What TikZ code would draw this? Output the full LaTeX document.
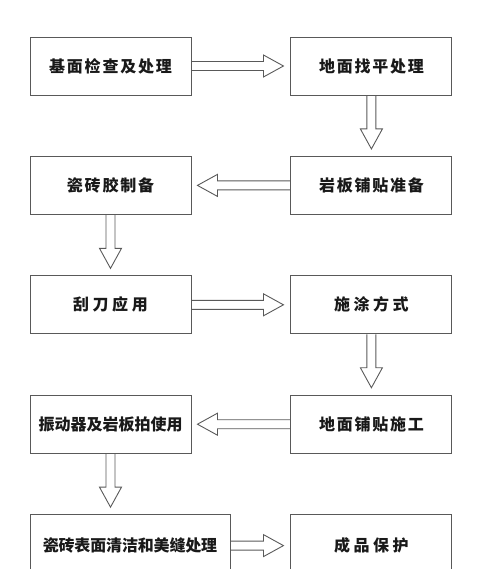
\documentclass[tikz,border=0pt]{standalone}
\usepackage{fontspec}
\newfontfamily\cjk{Noto Sans CJK SC}[LetterSpace=11]
\usetikzlibrary{positioning,calc}

\tikzset{
  stepbox/.style={draw=black!65, line width=0.9pt, minimum width=161pt,
    minimum height=58pt, inner sep=0pt, text=black!90,
    font=\cjk\bfseries\fontsize{16}{18}\selectfont},
  flow/.style={draw=black!65, line width=0.9pt, line join=miter}
}
% hollow block arrow from #1 to #2
\newcommand{\hollowarrow}[2]{%
  \coordinate (hb) at ($(#2)!20pt!(#1)$);
  \draw[flow] ($(#1)!4.5pt!90:(#2)$) -- ($(hb)!4.5pt!-90:(#1)$)
    -- ($(hb)!11pt!-90:(#1)$) -- (#2) -- ($(hb)!11pt!90:(#1)$)
    -- ($(hb)!4.5pt!90:(#1)$) -- ($(#1)!4.5pt!-90:(#2)$);
}

\begin{document}
\begin{tikzpicture}[node distance=60.5pt and 99pt]
\useasboundingbox (0,0) rectangle (480pt,-569pt);

\node[stepbox] (s1) at (110.5pt,-66pt) {基面检查及处理};
\node[stepbox] (s2) [right=of s1] {地面找平处理};
\node[stepbox] (s3) [below=of s2] {岩板铺贴准备};
\node[stepbox] (s4) [left=of s3] {瓷砖胶制备};
\node[stepbox] (s5) [below=of s4] {\addfontfeature{LetterSpace=22}刮刀应用};
\node[stepbox] (s6) [right=of s5] {\addfontfeature{LetterSpace=22}施涂方式};
\node[stepbox] (s7) [below=of s6] {地面铺贴施工};
\node[stepbox] (s8) [left=of s7] {\addfontfeature{LetterSpace=0}振动器及岩板拍使用};
\node[stepbox, minimum width=200pt, minimum height=62pt] (s9)
  [below=of s8.south west, anchor=north west]
  {\addfontfeature{LetterSpace=-1}瓷砖表面清洁和美缝处理};
\node[stepbox, minimum height=62pt] (s10) [below=of s7]
  {\addfontfeature{LetterSpace=22}成品保护};

% free ends of the arrows
\coordinate (e1) at ($(s2.west)+(-7pt,0)$);
\coordinate (e2) at ($(s3.north)+(0,7pt)$);
\coordinate (e3) at ($(s4.east)+(6pt,0)$);
\coordinate (e4) at ($(s5.north)+(0,7pt)$);
\coordinate (e5) at ($(s6.west)+(-7pt,0)$);
\coordinate (e6) at ($(s7.north)+(0,7pt)$);
\coordinate (e7) at ($(s8.east)+(6pt,0)$);
\coordinate (e8) at ($(s8.south |- s9.north)+(0,7pt)$);
\coordinate (e9) at ($(s10.west)+(-7pt,0)$);

\hollowarrow{s1.east}{e1}
\hollowarrow{s2.south}{e2}
\hollowarrow{s3.west}{e3}
\hollowarrow{s4.south}{e4}
\hollowarrow{s5.east}{e5}
\hollowarrow{s6.south}{e6}
\hollowarrow{s7.west}{e7}
\hollowarrow{s8.south}{e8}
\hollowarrow{s9.east}{e9}

\end{tikzpicture}
\end{document}
